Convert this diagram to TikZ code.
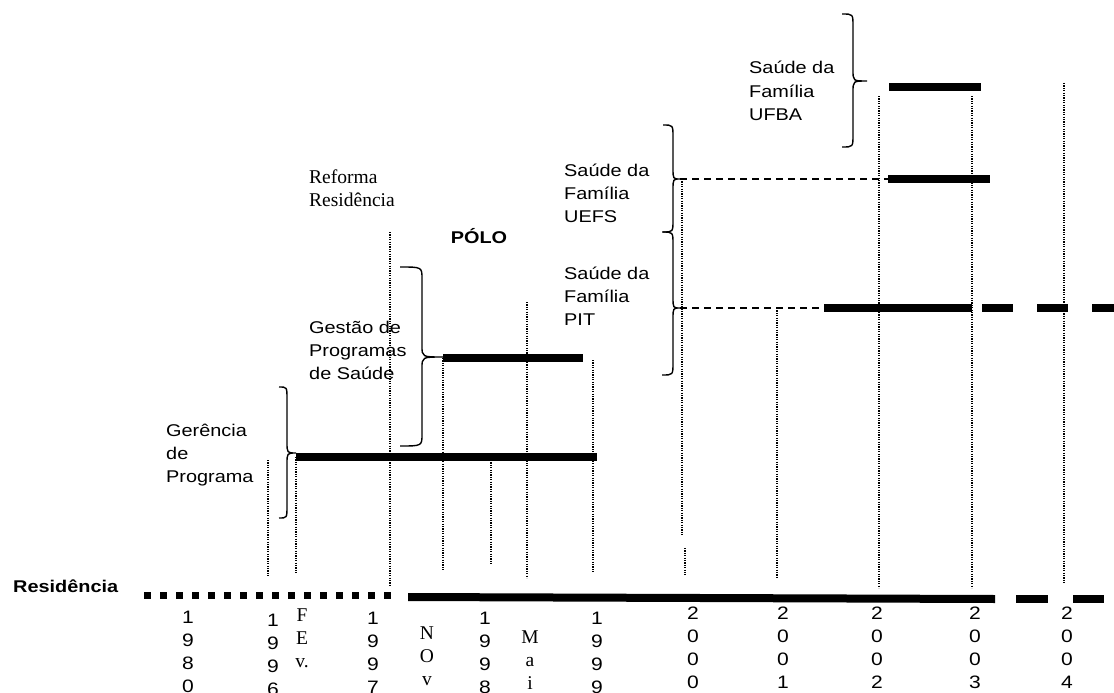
\documentclass[tikz,border=0pt]{standalone}
\usepackage{fontspec}
\newfontfamily\arialf{Liberation Sans}[FakeStretch=1.17]
\newfontfamily\timesf{Liberation Serif}
\newcommand\stacktext[6]{\foreach \t [count=\k from 0] in {#6} {\node[#2, name=#1\k] at (#3,{#4+#5*\k}) {\t};}}
\newcommand\bracepath[6]{%
  \draw[brace] (#1,#4) .. controls (#2,#4) .. (#2,{#4+12}) -- (#2,{#5-11})
    .. controls (#2,#5) .. (#3,#5) .. controls (#2,#5) .. (#2,{#5+11})
    -- (#2,{#6-12}) .. controls (#2,#6) .. (#1,#6);}
\begin{document}
\begin{tikzpicture}[x=1pt,y=-1pt,
  txt/.style={font=\arialf\fontsize{17}{23}\selectfont, inner sep=0pt, anchor=base west},
  txtc/.style={font=\arialf\fontsize{18}{23}\selectfont, inner sep=0pt, anchor=base},
  serc/.style={font=\timesf\fontsize{19.5}{23}\selectfont, inner sep=0pt, anchor=base},
  ser/.style={font=\timesf\fontsize{19.5}{23}\selectfont, inner sep=0pt, anchor=base west},
  boldtxt/.style={font=\arialf\bfseries\fontsize{17}{23}\selectfont, inner sep=0pt},
  bar/.style={line width=8pt, line cap=butt},
  dotline/.style={line width=1.2pt, dash pattern=on 1.2pt off 1.2pt},
  dashline/.style={line width=1.3pt, dash pattern=on 7pt off 5pt},
  brace/.style={line width=1.4pt},
]
\useasboundingbox (0,0) rectangle (1114,693);
\clip (0,0) rectangle (1114,693);
\fill[white] (0,0) rectangle (1114,693);

% ---------- texts ----------
\stacktext{ger}{txt}{166}{436}{23}{Gerência,de,Programa}
\stacktext{ges}{txt}{309}{333}{23}{Gestão de,Programas,de Saúde}
\stacktext{ref}{ser}{309}{183}{23}{Reforma,Residência}
\node[boldtxt, anchor=base] (polo) at (479,243) {PÓLO};
\stacktext{ufba}{txt}{749}{74}{23}{Saúde da,Família,UFBA}
\stacktext{uefs}{txt}{564}{176}{23}{Saúde da,Família,UEFS}
\stacktext{pit}{txt}{564}{279}{23}{Saúde da,Família,PIT}
\node[boldtxt, anchor=base west] (res) at (13,592) {Residência};

% ---------- year columns ----------
\stacktext{ya}{txtc}{188}{623}{23}{1,9,8,0}
\stacktext{yb}{txtc}{273}{626}{23}{1,9,9,6}
\stacktext{fev}{serc}{302}{621}{23}{F,E,v.}
\stacktext{yc}{txtc}{373}{624}{23}{1,9,9,7}
\stacktext{nov}{serc}{427}{639}{23}{N,O,v}
\stacktext{yd}{txtc}{485}{624}{23}{1,9,9,8}
\stacktext{mai}{serc}{530}{643}{23}{M,a,i}
\stacktext{ye}{txtc}{597}{624}{23}{1,9,9,9}
\stacktext{yf}{txtc}{693}{619}{23}{2,0,0,0}
\stacktext{yg}{txtc}{783}{619}{23}{2,0,0,1}
\stacktext{yh}{txtc}{877}{619}{23}{2,0,0,2}
\stacktext{yi}{txtc}{975}{619}{23}{2,0,0,3}
\stacktext{yj}{txtc}{1067}{619}{23}{2,0,0,4}

% ---------- dotted verticals ----------
\draw[dotline] (268,460) -- (268,577);
\draw[dotline] (296,457) -- (296,573);
\draw[dotline] (390,232) -- (390,586);
\draw[dotline] (443,358) -- (443,570);
\draw[dotline] (491,460) -- (491,565);
\draw[dotline] (527,302) -- (527,578);
\draw[dotline] (593,360) -- (593,573);
\draw[dotline] (682,179) -- (682,535);
\draw[dotline] (685,548) -- (685,575);
\draw[dotline] (777,308) -- (777,578);
\draw[dotline] (879,96) -- (879,588);
\draw[dotline] (972,96) -- (972,588);
\draw[dotline] (1064,83) -- (1064,584);

% ---------- braces ----------
\bracepath{279}{287}{296}{387}{453}{518}
\bracepath{400}{422}{443}{267}{357}{446}
\bracepath{842}{853}{867}{14}{81}{147}
\bracepath{663}{673}{680}{125}{179}{232}
\bracepath{662}{673}{680}{232}{308}{375}

% ---------- bars ----------
\coordinate (gerA) at (296,457); \coordinate (gerB) at (597,457);
\coordinate (gesA) at (443,358); \coordinate (gesB) at (583,358);
\coordinate (ufA) at (889,87);   \coordinate (ufB) at (981,87);
\coordinate (ueT) at (680,179);  \coordinate (ueA) at (888,179); \coordinate (ueB) at (990,179);
\coordinate (piT) at (680,308);  \coordinate (piA) at (824,308); \coordinate (piB) at (972,308);
\coordinate (piC) at (982,308);  \coordinate (piD) at (1125,308);
\draw[bar] (gerA) -- (gerB);
\draw[bar] (gesA) -- (gesB);
\draw[bar] (ufA) -- (ufB);
\draw[dashline] (ueT) -- (ueA);
\draw[bar] (ueA) -- (ueB);
\draw[dashline] (piT) -- (piA);
\draw[bar] (piA) -- (piB);
\draw[bar, dash pattern=on 31pt off 24pt] (piC) -- (piD);

% ---------- Residência line ----------
\coordinate (rA) at (144,595.5); \coordinate (rB) at (391,595.5);
\draw[line width=7pt, dash pattern=on 7pt off 9pt] (rA) -- (rB);
\fill (408,593) -- (995,595) -- (995,603) -- (408,601) -- cycle;
\coordinate (rC) at (1016,599); \coordinate (rD) at (1104,599);
\draw[line width=8pt, dash pattern=on 32pt off 25pt] (rC) -- (rD);
\end{tikzpicture}
\end{document}
